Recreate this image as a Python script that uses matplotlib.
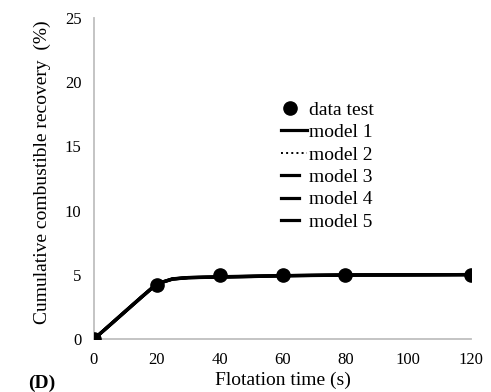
import matplotlib
matplotlib.use("Agg")
import numpy as np
import matplotlib.pyplot as plt
from matplotlib.legend_handler import HandlerLine2D

plt.rcParams['font.family'] = ['Liberation Serif', 'DejaVu Serif']

# data
t_test = [0, 20, 40, 60, 80, 120]
r_test = [0.0, 4.2, 4.97, 4.98, 5.0, 5.02]

t_model = [0, 5, 10, 15, 20, 25, 30, 40, 50, 60, 80, 100, 120]
model1 = [0.0, 1.08, 2.16, 3.24, 4.30, 4.68, 4.78, 4.83, 4.88, 4.93, 4.98, 5.0, 5.02]
model2 = [0.0, 1.10, 2.20, 3.28, 4.32, 4.70, 4.80, 4.84, 4.89, 4.94, 4.98, 5.0, 5.02]
model3 = [0.0, 1.06, 2.14, 3.22, 4.28, 4.66, 4.77, 4.82, 4.86, 4.92, 4.97, 4.99, 5.01]
model4 = [0.0, 1.09, 2.18, 3.26, 4.31, 4.69, 4.79, 4.85, 4.90, 4.94, 4.99, 5.0, 5.02]
model5 = [0.0, 1.07, 2.15, 3.23, 4.29, 4.67, 4.78, 4.83, 4.87, 4.93, 4.98, 5.0, 5.01]

x_ticks = [0, 20, 40, 60, 80, 100, 120]
y_ticks = [0, 5, 10, 15, 20, 25]

W, H = 491, 392
fig = plt.figure(figsize=(W / 100, H / 100), dpi=100)
ax = fig.add_axes([94 / W, 1 - 339 / H, (471 - 94) / W, (339 - 18) / H])

ax.plot(t_test, r_test, 'o', color='black', markersize=9.5, zorder=5, label='data test')
ax.plot(t_model, model1, '-', color='black', lw=2.3, label='model 1')
ax.plot(t_model, model2, ':', color='black', lw=1.4, label='model 2')
ax.plot(t_model, model3, '-', color='black', lw=2.3, label='model 3')
ax.plot(t_model, model4, '-', color='black', lw=2.3, label='model 4')
ax.plot(t_model, model5, '-', color='black', lw=2.3, label='model 5')

ax.set_xlim(0, 120)
ax.set_ylim(0, 25)
ax.set_xticks(x_ticks)
ax.set_yticks(y_ticks)
ax.tick_params(axis='both', length=0, labelsize=12)
ax.tick_params(axis='x', pad=9)
ax.tick_params(axis='y', pad=9)
for s in ['top', 'right']:
    ax.spines[s].set_visible(False)
for s in ['left', 'bottom']:
    ax.spines[s].set_color('#BFBFBF')
    ax.spines[s].set_linewidth(1.3)
for lbl in ax.get_xticklabels() + ax.get_yticklabels():
    lbl.set_clip_on(False)


class ShortHandler(HandlerLine2D):
    """Line handle drawn over only part of the handle box, from the left."""
    def __init__(self, frac=0.7, **kw):
        super().__init__(**kw)
        self.frac = frac

    def create_artists(self, legend, orig_handle, xdescent, ydescent, width, height,
                       fontsize, trans):
        artists = super().create_artists(legend, orig_handle, xdescent, ydescent,
                                         width, height, fontsize, trans)
        for a in artists:
            xd = np.asarray(a.get_xdata(), dtype=float)
            if len(xd) >= 2:
                x0 = xd[0]
                a.set_xdata(x0 + (xd - x0) * self.frac)
        return artists


handles, labels = ax.get_legend_handles_labels()
hmap = {handles[0]: ShortHandler(0.68),
        handles[3]: ShortHandler(0.68), handles[4]: ShortHandler(0.68),
        handles[5]: ShortHandler(0.68)}
leg = ax.legend(handles, labels, loc='upper left',
                bbox_to_anchor=(281 / W, 1 - 101 / H), bbox_transform=fig.transFigure,
                frameon=False, fontsize=14, borderpad=0, borderaxespad=0,
                handlelength=1.35, handletextpad=0.1, labelspacing=0.25,
                handler_map=hmap)

fig.text(283 / W, 1 - 380 / H, 'Flotation time (s)', ha='center', va='center', fontsize=14)
fig.text(42 / W, 1 - 172 / H, 'Cumulative combustible recovery  (%)', ha='center', va='center',
         rotation=90, fontsize=14)
fig.text(28 / W, 1 - 383 / H, '(D)', ha='left', va='center', fontsize=14, fontweight='bold')

fig.savefig('out.png', dpi=100)
